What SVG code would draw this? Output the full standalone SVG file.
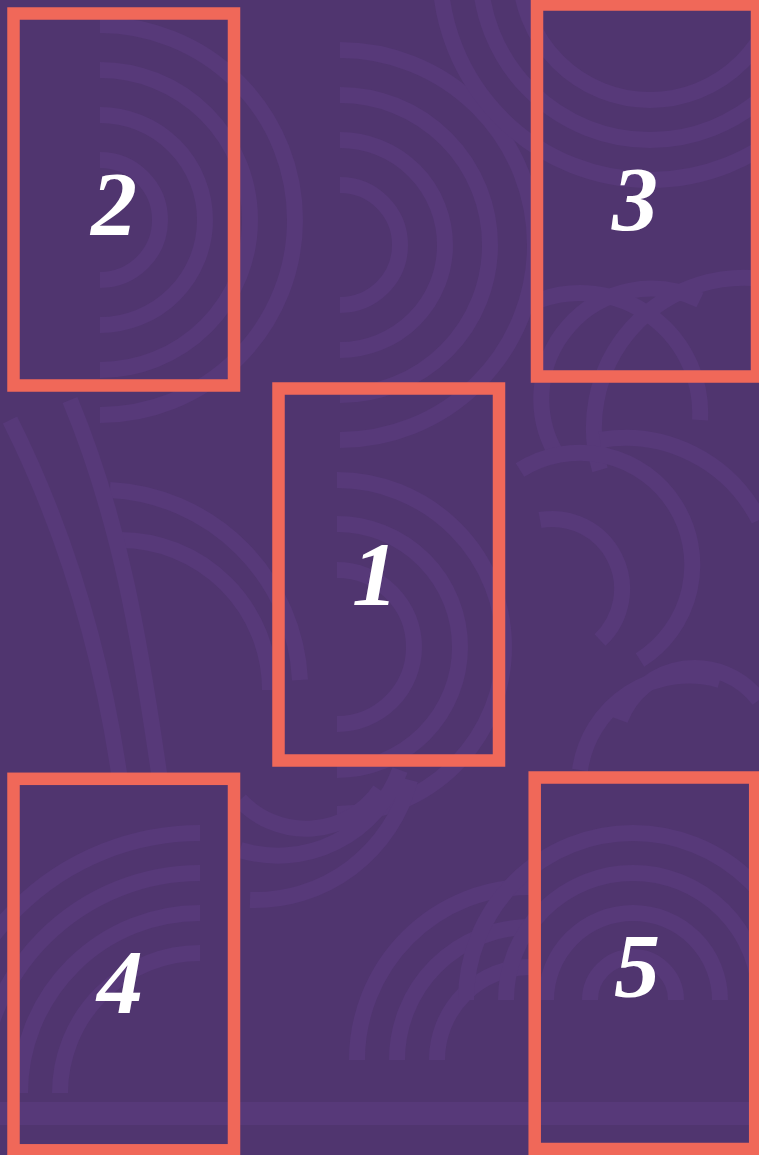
<svg xmlns="http://www.w3.org/2000/svg" width="759" height="1155" viewBox="0 0 759 1155">
<defs>
<style>
.bg{fill:#50356f}
.pat{fill:none;stroke:#573979;stroke-width:16}
.card{fill:none;stroke:#f06859;stroke-width:12.5}
.num{font-family:"Liberation Serif","DejaVu Serif",serif;font-style:italic;font-weight:bold;font-size:92px;fill:#ffffff;text-anchor:middle}
</style>
</defs>
<rect class="bg" x="0" y="0" width="759" height="1155"/>
<g id="pattern">
<path class="pat" d="M340,185 A60,60 0 0 1 340,305 M340,140 A105,105 0 0 1 340,350 M340,95 A150,150 0 0 1 340,395 M340,50 A195,195 0 0 1 340,440"/>
<path class="pat" d="M100,160 A60,60 0 0 1 100,280 M100,115 A105,105 0 0 1 100,325 M100,70 A150,150 0 0 1 100,370 M100,25 A195,195 0 0 1 100,415"/>
<path class="pat" d="M520,-30 A130,130 0 0 0 780,-30 M480,-30 A170,170 0 0 0 820,-30 M440,-30 A210,210 0 0 0 860,-30"/>
<path class="pat" d="M560,460 A110,110 0 0 1 700,300 M600,470 A150,150 0 0 1 770,280 M540,300 A120,120 0 0 1 700,420"/>
<path class="pat" d="M337,570 A77,77 0 0 1 337,724 M337,524 A123,123 0 0 1 337,770 M337,480 A167,167 0 0 1 337,814"/>
<path class="pat" d="M120,540 A150,150 0 0 1 270,690 M110,490 A200,200 0 0 1 300,680"/>
<path class="pat" d="M10,420 C60,520 100,640 120,780 M70,400 C120,520 140,640 160,780"/>
<path class="pat" d="M540,520 A70,70 0 0 1 600,640 M520,470 A110,110 0 0 1 640,660 M600,440 A150,150 0 0 1 759,520 M620,720 A80,80 0 0 1 759,700 M580,770 A110,110 0 0 1 720,680"/>
<path class="pat" d="M60,1093 A140,140 0 0 1 200,953 M20,1093 A180,180 0 0 1 200,913 M-20,1093 A220,220 0 0 1 200,873 M-60,1093 A260,260 0 0 1 200,833"/>
<path class="pat" d="M397,1060 A133,133 0 0 1 530,927 M437,1060 A93,93 0 0 1 530,967 M357,1060 A173,173 0 0 1 530,887"/>
<path class="pat" d="M240,800 A90,90 0 0 0 380,790 M240,850 A130,130 0 0 0 400,770 M250,900 A160,160 0 0 0 410,780"/>
<path class="pat" d="M590,1000 A43,43 0 0 1 676,1000 M546,1000 A87,87 0 0 1 720,1000 M506,1000 A127,127 0 0 1 760,1000 M466,1000 A167,167 0 0 1 800,1000"/>
<rect x="0" y="1102" width="759" height="23" fill="#573979"/>
</g>
<g id="node-2"><rect class="card" x="13.5" y="13.5" width="220.5" height="372"/><text class="num" x="114" y="235">2</text></g>
<g id="node-3"><rect class="card" x="537" y="4.5" width="220" height="372"/><text class="num" x="635" y="230">3</text></g>
<g id="node-1"><rect class="card" x="278.5" y="388.5" width="220.5" height="372"/><text class="num" x="375" y="605">1</text></g>
<g id="node-4"><rect class="card" x="13.5" y="778.8" width="220.5" height="371.5"/><text class="num" x="120" y="1013">4</text></g>
<g id="node-5"><rect class="card" x="534.7" y="777.5" width="220.5" height="371.5"/><text class="num" x="637" y="997">5</text></g>
<g id="connectors"/>
</svg>
